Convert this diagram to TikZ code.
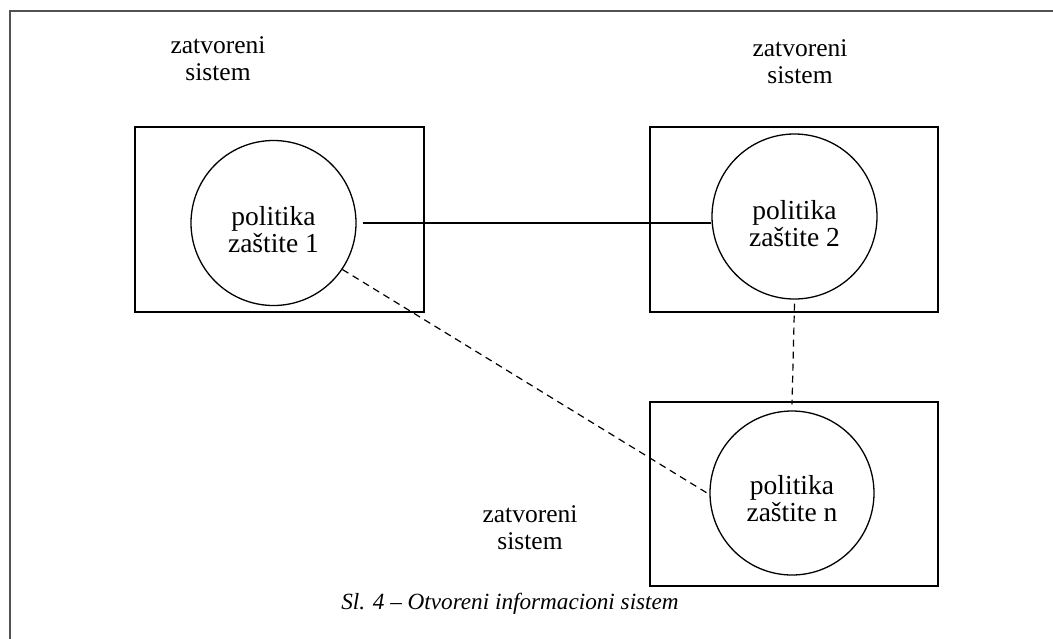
\documentclass[tikz,border=0pt]{standalone}
\usepackage{fontspec}
\setmainfont{Liberation Serif}
\usetikzlibrary{calc}
\begin{document}
\begin{tikzpicture}[x=1pt,y=-1pt,
  frameline/.style={draw=black!68,line width=1.8pt},
  sysbox/.style={draw,line width=1.4pt,rectangle,inner sep=0pt},
  policy/.style={draw,line width=1.3pt,circle,inner sep=0pt,minimum size=165pt},
  policytext/.style={align=center,font=\fontsize{27.5}{27}\selectfont},
  syslabel/.style={align=center,font=\fontsize{25.5}{27}\selectfont},
  link/.style={line width=1.3pt},
  weaklink/.style={line width=1.2pt,dash pattern=on 7pt off 5pt}]
\useasboundingbox (0,0) rectangle (1053,638);
% page frame
\draw[frameline] (10,640) -- (10,11) -- (1056,11);
% closed systems
\node[sysbox,minimum width=289pt,minimum height=185pt] (b1) at (279.5,219.5) {};
\node[sysbox,minimum width=288pt,minimum height=185pt] (b2) at (794,219.5) {};
\node[sysbox,minimum width=288pt,minimum height=184pt] (b3) at (794,494) {};
% security policies
\node[policy] (c1) at (273.5,223) {};
\node[policy] (c2) at (794.5,216.5) {};
\node[policy,minimum size=164pt] (c3) at (792,493) {};
\node[policytext] (t1) at ($(c1)+(0,7)$) {politika\\zaštite 1};
\node[policytext] (t2) at ($(c2)+(0,7)$) {politika\\zaštite 2};
\node[policytext] (t3) at ($(c3)+(0,6)$) {politika\\zaštite n};
% labels
\node[syslabel] (l1) at (218,59) {zatvoreni\\sistem};
\node[syslabel] (l2) at (800,62) {zatvoreni\\sistem};
\node[syslabel] (l3) at (530,528) {zatvoreni\\sistem};
% links between policies
\draw[link] ($(c1.east)+(6,0)$) -- (c2.west |- c1.east);
\draw[weaklink] (c1.-34.5) -- (c3.181);
\draw[weaklink] ($(c2.south)+(0,4)$) -- ($(c3.north)+(0,-6)$);
% caption
\node[font=\fontsize{23.2}{25}\selectfont\itshape] (cap) at (510,604) {Sl. 4 – Otvoreni informacioni sistem};
\end{tikzpicture}
\end{document}
